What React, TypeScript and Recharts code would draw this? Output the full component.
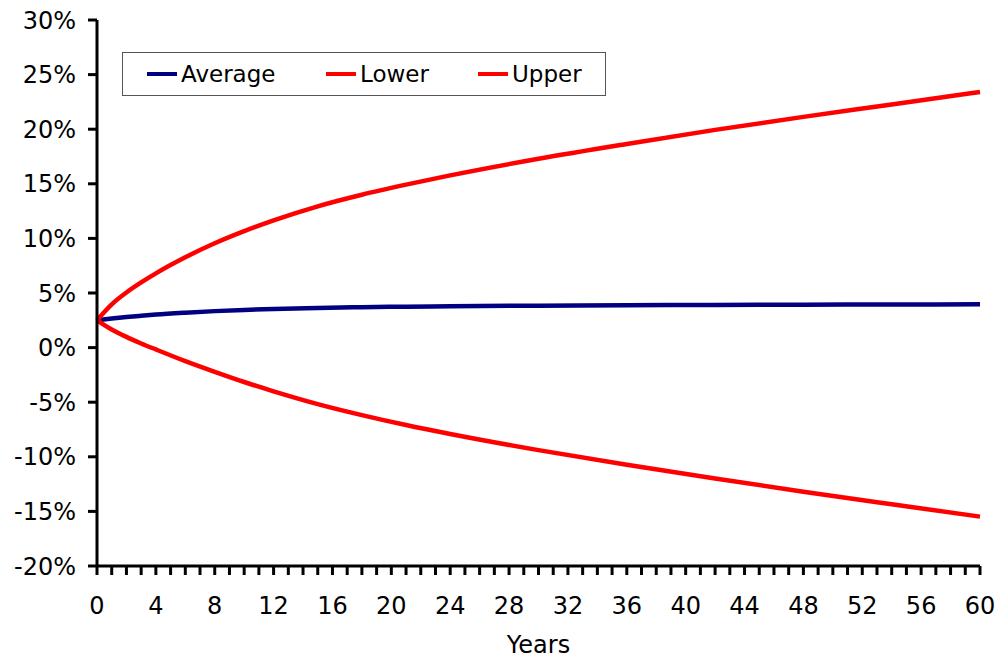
import React from 'react';
import { LineChart, Line, XAxis, YAxis, Legend } from 'recharts';

const years = [0, 1, 2, 3, 4, 6, 8, 10, 12, 15, 18, 21, 24, 30, 36, 42, 48, 54, 60];
const average = [2.5, 2.66, 2.8, 2.92, 3.03, 3.2, 3.34, 3.45, 3.54, 3.63, 3.7, 3.75, 3.79, 3.84, 3.88, 3.91, 3.93, 3.95, 3.96];
const lower = [2.5, 1.66, 0.98, 0.38, -0.17, -1.24, -2.22, -3.15, -4.0, -5.17, -6.18, -7.09, -7.91, -9.39, -10.73, -11.99, -13.2, -14.35, -15.48];
const upper = [2.5, 3.96, 5.05, 5.97, 6.8, 8.27, 9.55, 10.66, 11.65, 12.94, 14.0, 14.92, 15.77, 17.29, 18.65, 19.94, 21.13, 22.26, 23.41];
const yTicks = [-20, -15, -10, -5, 0, 5, 10, 15, 20, 25, 30];
const xTicks = Array.from({ length: 61 }, (_, i) => i);
const seriesNames = ['Average', 'Lower', 'Upper'];
const seriesColors = ['#000080', '#FF0000', '#FF0000'];

const data = years.map((y, i) => ({ year: y, Average: average[i], Lower: lower[i], Upper: upper[i] }));

const FONT = '"DejaVu Sans", Verdana, sans-serif';

const LegendBox = () => (
  <div
    style={{
      position: 'absolute',
      left: 122,
      top: 52,
      width: 484,
      height: 44,
      boxSizing: 'border-box',
      border: '1px solid #555',
      background: '#fff',
      fontFamily: FONT,
      fontSize: 23,
      color: '#000',
    }}
  >
    {seriesNames.map((n, i) => {
      const lefts = [24, 203, 355];
      return (
        <div key={n} style={{ position: 'absolute', left: lefts[i], top: 0, height: 42, display: 'flex', alignItems: 'center', whiteSpace: 'nowrap' }}>
          <span style={{ display: 'inline-block', width: 30, height: 4, background: seriesColors[i], marginRight: 4 }} />
          <span>{n}</span>
        </div>
      );
    })}
  </div>
);

export default function App() {
  return (
    <div style={{ position: 'absolute', left: 0, top: 0, width: 1000, height: 659, background: '#fff' }}>
      <LineChart width={1000} height={659} data={data} margin={{ top: 20, right: 20, bottom: 0, left: 0 }}>
        <XAxis
          dataKey="year"
          type="number"
          domain={[0, 60]}
          ticks={xTicks}
          interval={0}
          tickFormatter={(v: number) => (v % 4 === 0 ? String(v) : '')}
          axisLine={{ stroke: '#000', strokeWidth: 3 }}
          tickLine={{ stroke: '#000', strokeWidth: 3 }}
          tickSize={9}
          tickMargin={22}
          height={93}
          tick={{ fill: '#000', fontSize: 24, fontFamily: FONT }}
          label={{ value: 'Years', position: 'insideBottom', offset: 6, fill: '#000', fontSize: 24, fontFamily: FONT }}
        />
        <YAxis
          type="number"
          domain={[-20, 30]}
          ticks={yTicks}
          interval={0}
          tickFormatter={(v: number) => `${v}%`}
          axisLine={{ stroke: '#000', strokeWidth: 3 }}
          tickLine={{ stroke: '#000', strokeWidth: 3 }}
          tickSize={9}
          tickMargin={12}
          width={97}
          tick={{ fill: '#000', fontSize: 24, fontFamily: FONT }}
        />
        <Legend layout="horizontal" verticalAlign="middle" align="center" content={() => null} />
        <Line type="monotone" dataKey="Average" stroke={seriesColors[0]} strokeWidth={4.5} dot={false} isAnimationActive={false} />
        <Line type="monotone" dataKey="Lower" stroke={seriesColors[1]} strokeWidth={4.5} dot={false} isAnimationActive={false} />
        <Line type="monotone" dataKey="Upper" stroke={seriesColors[2]} strokeWidth={4.5} dot={false} isAnimationActive={false} />
      </LineChart>
      <LegendBox />
    </div>
  );
}
